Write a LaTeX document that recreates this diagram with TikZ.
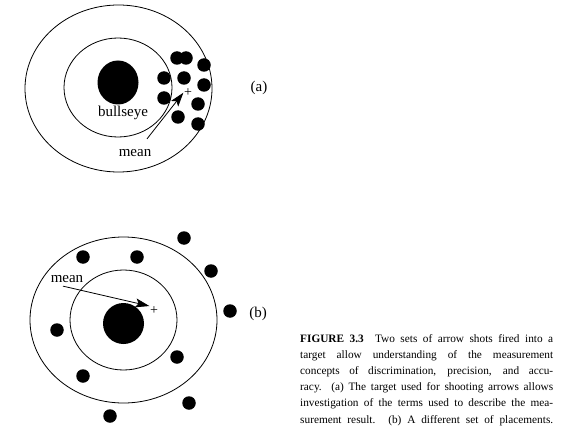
\documentclass[tikz,border=0pt]{standalone}
\usepackage{fontspec}
\setmainfont{Liberation Serif}
\usetikzlibrary{shapes.geometric,arrows.meta,positioning}

\begin{document}
\begin{tikzpicture}[
  x=1pt, y=-1pt,
  ring/.style={draw, ellipse, line width=0.8pt, inner sep=0pt},
  eye/.style={fill=black, ellipse, inner sep=0pt},
  shot/.style={fill=black, circle, inner sep=0pt, minimum size=13.5pt},
  lbl/.style={font=\fontsize{15}{17}\selectfont},
  plus/.style={font=\fontsize{14}{16}\selectfont, inner sep=0.5pt},
  arrow/.style={-{Stealth[length=14pt, width=9pt, inset=3pt]}, line width=0.8pt},
]
\useasboundingbox (0,0) rectangle (575,433);

% Target (a)
\node[ring, minimum width=187pt, minimum height=167pt] (outerA) at (118.5,88.5) {};
\node[ring, minimum width=108pt, minimum height=99pt] (innerA) at (118,87.5) {};
\node[eye, minimum width=41pt, minimum height=44pt] (eyeA) at (118,82.5) {};
\node[lbl] (bullA) at (123,113) {bullseye};
\foreach \x/\y [count=\i] in {177/58, 186/58, 204/65, 164/78, 184/78, 204/85,
                              164/98, 198/104, 178/117, 198/124}
  \node[shot] (a\i) at (\x,\y) {};
\node[plus] (plusA) at (188,92.7) {+};
\node[lbl] (meanA) at (135,153) {mean};
\node[lbl] (tagA) at (259,88) {(a)};
\draw[arrow] ([xshift=12pt, yshift=7pt]meanA.north) -- (plusA.west);

% Target (b)
\node[ring, minimum width=187pt, minimum height=166pt] (outerB) at (123.5,320) {};
\node[ring, minimum width=107pt, minimum height=100pt] (innerB) at (123.5,320) {};
\node[eye, minimum width=41pt, minimum height=41pt] (eyeB) at (123.5,323.5) {};
\foreach \x/\y [count=\i] in {184/238, 83/257, 137/257, 211/271, 230/311,
                              57/330, 177/357, 83/376, 189/403, 110/416}
  \node[shot] (b\i) at (\x,\y) {};
\node[plus] (plusB) at (154,310.7) {+};
\node[lbl] (meanB) at (67,279) {mean};
\node[lbl] (tagB) at (258,314) {(b)};
\draw[arrow] ([xshift=-4pt]meanB.south) -- (plusB.north west);

% Caption
\node[anchor=north west, inner sep=0pt, text width=253pt, align=justify,
      font=\fontsize{11.3}{16.2}\selectfont] (caption) at (300,334)
  {\textbf{FIGURE 3.3}\quad Two sets of arrow shots fired into a\linebreak
   target allow understanding of the measurement\linebreak
   concepts of discrimination, precision, and accu-\linebreak
   racy. (a) The target used for shooting arrows allows\linebreak
   investigation of the terms used to describe the mea-\linebreak
   surement result. (b) A different set of placements.{\parfillskip=0pt\par}};
\end{tikzpicture}
\end{document}
